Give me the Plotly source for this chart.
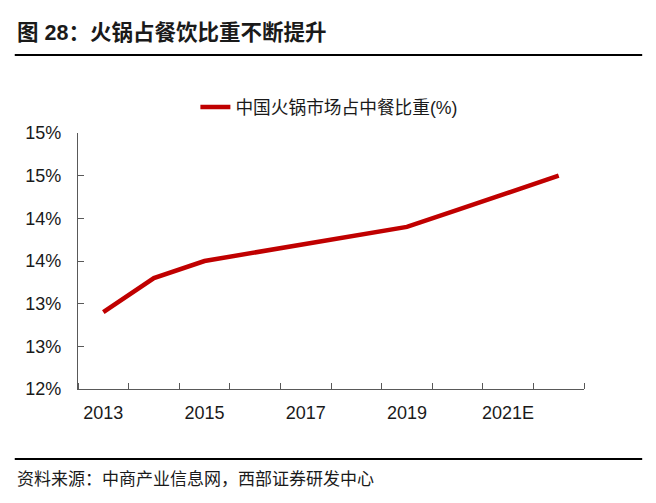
import plotly.graph_objects as go

# data
years = ['2013', '2014', '2015', '2016', '2017', '2018', '2019', '2020', '2021E', '2022E']
share = [12.9, 13.3, 13.5, 13.6, 13.7, 13.8, 13.9, 14.1, 14.3, 14.5]  # 中国火锅市场占中餐比重(%)
y_ticks = [12, 12.5, 13, 13.5, 14, 14.5, 15]
y_labels = ['12%', '13%', '13%', '14%', '14%', '15%', '15%']

FONT = 'Liberation Sans, Arial, Noto Sans CJK SC'
AXIS = '#595959'

x_idx = list(range(len(years)))

fig = go.Figure()
fig.add_trace(go.Scatter(
    x=x_idx, y=share, mode='lines',
    name='中国火锅市场占中餐比重(%)',
    line=dict(color='#C00000', width=4.5)))

fig.update_layout(
    width=656, height=503,
    margin=dict(l=78, r=72, t=133, b=114),
    paper_bgcolor='white', plot_bgcolor='white',
    font=dict(family=FONT, size=18, color='#1a1a1a'),
    showlegend=True,
    legend=dict(orientation='h', x=0.232, y=1.10, xanchor='left', yanchor='middle',
                font=dict(size=17.7, family=FONT), bgcolor='rgba(0,0,0,0)'),
    xaxis=dict(range=[-0.5, len(years) - 0.5], showgrid=False, zeroline=False,
               showline=True, linecolor=AXIS, linewidth=1.3,
               tickmode='array', tickvals=x_idx[::2], ticktext=years[::2],
               ticks='', ticklabelstandoff=7,
               minor=dict(ticks='inside', tick0=-0.5, dtick=1, ticklen=6,
                          tickcolor=AXIS, tickwidth=1.3, showgrid=False)),
    yaxis=dict(range=[12, 15], showgrid=False, zeroline=False,
               showline=True, linecolor=AXIS, linewidth=1.3,
               tickmode='array', tickvals=y_ticks, ticktext=y_labels,
               ticks='inside', ticklen=6, tickcolor=AXIS, tickwidth=1.3,
               ticklabelstandoff=12),
)

# title, rules and source note
fig.add_annotation(text='<b>图 28：火锅占餐饮比重不断提升</b>', xref='paper', yref='paper',
                   x=-0.125, y=1.39, xanchor='left', yanchor='middle', showarrow=False,
                   font=dict(size=21.5, family=FONT, color='#1a1a1a'))
fig.add_shape(type='line', xref='paper', yref='paper', x0=-0.125, x1=1.115, y0=1.305, y1=1.305,
              line=dict(color='black', width=2))
fig.add_shape(type='line', xref='paper', yref='paper', x0=-0.125, x1=1.115, y0=-0.273, y1=-0.273,
              line=dict(color='black', width=2))
fig.add_annotation(text='资料来源：中商产业信息网，西部证券研发中心', xref='paper', yref='paper',
                   x=-0.125, y=-0.355, xanchor='left', yanchor='middle', showarrow=False,
                   font=dict(size=17, family=FONT, color='#1a1a1a'))

# the page body has an 8px default margin; drop it so the figure sits at (0, 0)
fig.write_html('out.html', config={'displayModeBar': False},
               post_script="document.body.style.margin='0';")
